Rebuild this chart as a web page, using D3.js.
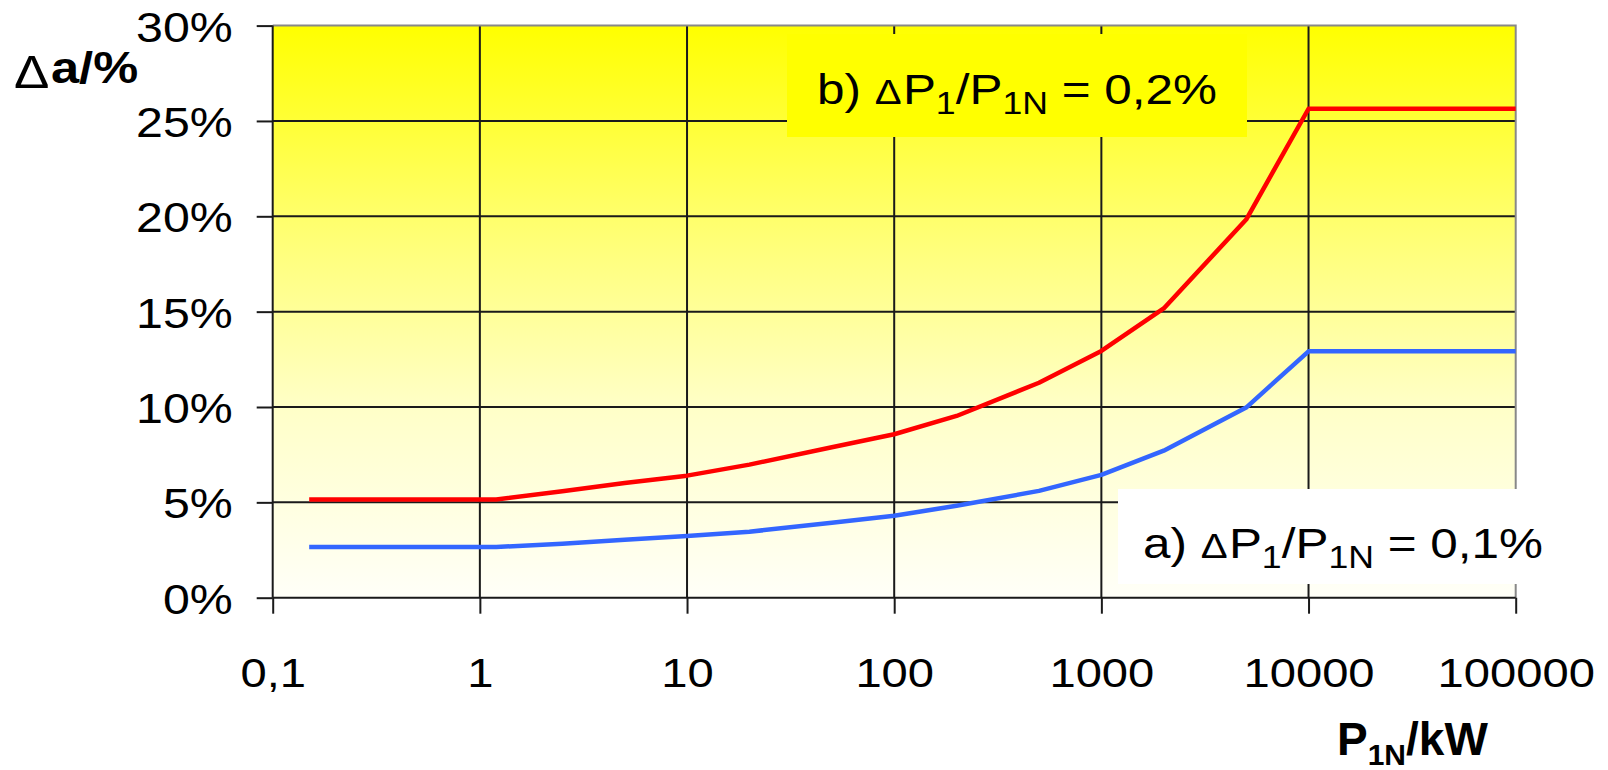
<!DOCTYPE html>
<html>
<head>
<meta charset="utf-8">
<script src="https://cdn.jsdelivr.net/npm/d3@7"></script>
<style>
body { margin: 0; background: #fff; }
text { font-family: "Liberation Sans", Arial, sans-serif; fill: #000; }
</style>
</head>
<body>
<script>
const width = 1608;
const height = 770;

// data
const powerKW = [0.15, 1.2, 2.5, 5, 10, 20, 50, 100, 200, 500, 1000, 2000, 5000, 10000, 100000];
const deltaB = [5.15, 5.15, 5.58, 6.02, 6.40, 6.98, 7.89, 8.57, 9.53, 11.27, 12.94, 15.17, 19.83, 25.64, 25.64];
const deltaA = [2.66, 2.66, 2.83, 3.04, 3.24, 3.46, 3.93, 4.30, 4.82, 5.60, 6.44, 7.71, 9.97, 12.92, 12.92];
const xTicks = [0.1, 1, 10, 100, 1000, 10000, 100000];
const xTickLabels = ["0,1", "1", "10", "100", "1000", "10000", "100000"];
const yTicks = [0, 5, 10, 15, 20, 25, 30];

const SX = 1.15; // text in the original is a bit wide

const pLeft = 272.7, pRight = 1515.7, pTop = 25.6, pBottom = 597.7;

const x = d3.scaleLog().domain([0.1, 100000]).range([pLeft, pRight]);
const y = d3.scaleLinear().domain([0, 30]).range([pBottom, pTop]);

const svg = d3.select("body").append("svg")
    .attr("width", width)
    .attr("height", height);

const grad = svg.append("defs").append("linearGradient")
    .attr("id", "bg")
    .attr("x1", 0).attr("y1", 0).attr("x2", 0).attr("y2", 1);
grad.append("stop").attr("offset", 0).attr("stop-color", "#ffff00");
grad.append("stop").attr("offset", 0.33).attr("stop-color", "#ffff6a");
grad.append("stop").attr("offset", 0.67).attr("stop-color", "#ffffc8");
grad.append("stop").attr("offset", 1).attr("stop-color", "#fffff8");

svg.append("rect")
    .attr("x", pLeft).attr("y", pTop)
    .attr("width", pRight - pLeft).attr("height", pBottom - pTop)
    .attr("fill", "url(#bg)");

// grid
svg.append("g").selectAll("line")
    .data(yTicks.slice(1, -1))
    .enter().append("line")
    .attr("x1", pLeft).attr("x2", pRight)
    .attr("y1", d => y(d)).attr("y2", d => y(d))
    .attr("stroke", "#1a1a1a").attr("stroke-width", 2);

svg.append("g").selectAll("line")
    .data(xTicks.slice(1, -1))
    .enter().append("line")
    .attr("x1", d => x(d)).attr("x2", d => x(d))
    .attr("y1", pTop).attr("y2", pBottom)
    .attr("stroke", "#1a1a1a").attr("stroke-width", 2);

// plot area border: top and right grey
svg.append("path")
    .attr("d", `M${pLeft},${pTop}H${pRight}V${pBottom}`)
    .attr("fill", "none").attr("stroke", "#888").attr("stroke-width", 2);

// axes
const yAxis = svg.append("g")
    .attr("transform", `translate(${pLeft},0)`)
    .call(d3.axisLeft(y).tickValues(yTicks).tickSize(16).tickSizeOuter(0).tickFormat(d => d + "%"));
yAxis.select(".domain").remove();
yAxis.selectAll("line").attr("stroke", "#1a1a1a").attr("stroke-width", 2);
yAxis.selectAll("text")
    .attr("x", -40 / SX)
    .attr("dy", "0.37em")
    .attr("transform", `scale(${SX},1)`)
    .attr("font-size", 42)
    .attr("font-family", null)
    .attr("fill", "#000");

const xAxis = svg.append("g")
    .attr("transform", `translate(0,${pBottom})`)
    .call(d3.axisBottom(x).tickValues(xTicks).tickSize(16).tickSizeOuter(0).tickFormat((d, i) => xTickLabels[i]));
xAxis.select(".domain").remove();
xAxis.selectAll("line").attr("stroke", "#1a1a1a").attr("stroke-width", 2);
xAxis.selectAll("text")
    .attr("y", 687 - pBottom)
    .attr("dy", 0)
    .attr("transform", `scale(${SX},1)`)
    .attr("font-size", 41)
    .attr("font-family", null)
    .attr("fill", "#000");

svg.append("line")
    .attr("x1", pLeft).attr("x2", pLeft).attr("y1", pTop).attr("y2", pBottom)
    .attr("stroke", "#1a1a1a").attr("stroke-width", 2);
svg.append("line")
    .attr("x1", pLeft).attr("x2", pRight).attr("y1", pBottom).attr("y2", pBottom)
    .attr("stroke", "#1a1a1a").attr("stroke-width", 2);

// text with sub/small parts
function richText(parts, px, py, anchor, weight, sx) {
    const t = svg.append("text")
        .attr("transform", `translate(${px},${py}) scale(${sx || SX},1)`)
        .attr("text-anchor", anchor)
        .attr("font-weight", weight || "normal");
    let shift = 0;
    parts.forEach(p => {
        const want = p.sub || 0;
        t.append("tspan")
            .attr("dy", want - shift)
            .attr("font-size", p.size)
            .attr("font-weight", p.weight || null)
            .text(p.t);
        shift = want;
    });
    return t;
}

// label boxes
svg.append("rect")
    .attr("x", 787).attr("y", 34).attr("width", 460).attr("height", 103)
    .attr("fill", "#ffff00");
svg.append("rect")
    .attr("x", 1118).attr("y", 489).attr("width", 440).attr("height", 95)
    .attr("fill", "#fff");

const labelParts = (head, tail) => [
    { t: head + " ", size: 43 },
    { t: "Δ", size: 35 },
    { t: " ", size: 4 },
    { t: "P", size: 43 },
    { t: "1", size: 31, sub: 10 },
    { t: "/P", size: 43 },
    { t: "1N", size: 31, sub: 10 },
    { t: " = " + tail, size: 43 }
];

richText(labelParts("b)", "0,2%"), 1017, 104, "middle");
richText(labelParts("a)", "0,1%"), 1343, 558, "middle");

// axis titles
richText([
    { t: "Δ", size: 46 },
    { t: " ", size: 5 },
    { t: "a/%", size: 44, weight: "bold", sub: -5 }
], 14, 88, "start");

richText([
    { t: "P", size: 46 },
    { t: "1N", size: 30, sub: 10 },
    { t: "/kW", size: 46 }
], 1337, 755, "start", "bold", 1);

// curves
const line = d3.line()
    .x((d, i) => x(powerKW[i]))
    .y(d => y(d));

svg.append("path")
    .datum(deltaA)
    .attr("d", line)
    .attr("fill", "none")
    .attr("stroke", "#3366ff")
    .attr("stroke-width", 4.5)
    .attr("stroke-linejoin", "round");

svg.append("path")
    .datum(deltaB)
    .attr("d", line)
    .attr("fill", "none")
    .attr("stroke", "#ff0000")
    .attr("stroke-width", 4.5)
    .attr("stroke-linejoin", "round");
</script>
</body>
</html>
